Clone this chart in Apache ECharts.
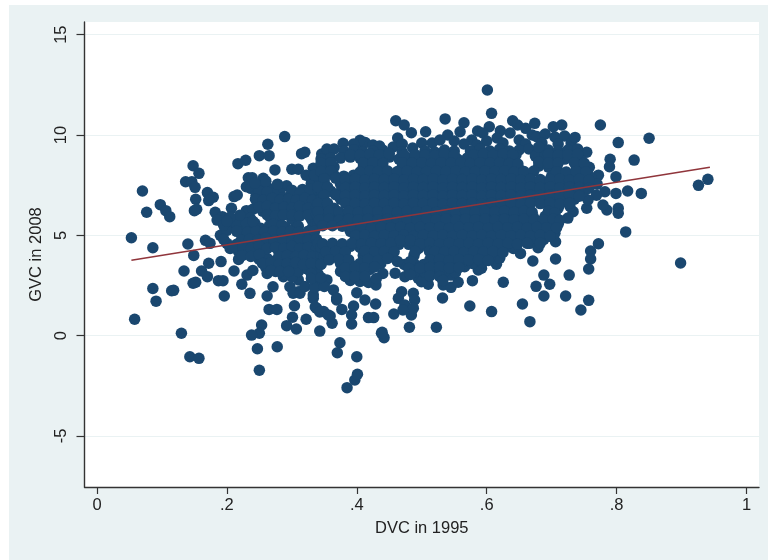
<!DOCTYPE html>
<html><head><meta charset="utf-8">
<script src="https://cdn.jsdelivr.net/npm/echarts@6/dist/echarts.min.js"></script>
<style>html,body{margin:0;padding:0;background:#fff;width:768px;height:560px;overflow:hidden}
#bg{position:absolute;left:9px;top:5px;right:0;bottom:0;background:#eaf2f3}
#c{position:absolute;left:0;top:0;width:768px;height:560px}</style></head>
<body><div id="bg"></div><div id="c"></div>
<script>
const xTicks=[0,.2,.4,.6,.8,1];
const xTickLabels={0:'0',0.2:'.2',0.4:'.4',0.6:'.6',0.8:'.8',1:'1'};
const yTicks=[-5,0,5,10,15];
const fitLine=[[.053,3.76],[.9436,8.39]];
const leftEdge=[[.053,4.88],[.070,7.21],[.0765,6.15],[.0975,6.53],[.106,6.23],[.112,5.93],[.086,4.38],[.140,4.57],[.167,4.75],[.174,4.60],[.149,4.0],[.172,3.61],[.191,3.69],[.134,3.22],[.161,3.22],[.211,3.22],[.148,8.47],[.157,8.09],[.1365,7.67],[.146,7.67],[.151,7.39],[.152,6.80],[.1535,6.30],[.150,6.23],[.170,7.13],[.179,6.90],[.172,6.73],[.182,6.15],[.193,5.93],[.185,5.76],[.211,6.93],[.216,7.01],[.207,6.35],[.230,6.23],[.240,6.30],[.217,8.57],[.229,8.74],[.250,8.97],[.263,9.54],[.265,8.97],[.289,9.92],[.274,8.26],[.256,7.84],[.233,7.87],[.239,7.87],[.230,7.42],[.237,7.34],[.264,7.34],[.292,7.47],[.3165,7.29],[.300,8.29],[.310,8.29],[.315,9.07],[.320,9.14],[.333,8.34],[.346,9.05],[.354,9.30],[.365,9.30],[.379,9.59],[.404,9.59],[.413,9.62],[.425,9.50],[.405,9.74]];
const topEdge=[[.460,10.71],[.473,10.50],[.484,10.11],[.506,10.16],[.536,10.80],[.565,10.61],[.559,10.16],[.6075,11.08],[.586,10.2],[.604,10.41],[.621,10.21],[.640,10.71],[.6475,10.5],[.660,10.33],[.674,10.58],[.601,12.24],[.7025,10.41],[.7155,10.50],[.463,9.85],[.456,9.4],[.44,9.25],[.486,9.35],[.516,9.6],[.54,10.0],[.528,9.75],[.577,9.75],[.594,10.1],[.616,9.85],[.636,10.1],[.67,10.0],[.677,9.92],[.69,10.05],[.705,9.9],[.72,9.95],[.55,9.7],[.6,9.7],[.65,9.75],[.5,9.6],[.47,9.55],[.625,9.6],[.565,9.55],[.585,9.5],[.66,9.55],[.685,9.6],[.71,9.55],[.73,9.6],[.395,9.55],[.435,9.45]];
const rightEdge=[[.775,10.50],[.850,9.84],[.8025,9.62],[.736,9.88],[.754,9.14],[.790,8.79],[.827,8.75],[.789,8.42],[.758,8.39],[.772,8.0],[.799,7.92],[.799,7.09],[.817,7.21],[.838,7.09],[.9405,7.79],[.926,7.49],[.8025,6.35],[.8025,6.10],[.785,6.26],[.754,6.35],[.779,6.51],[.782,7.17],[.769,7.0],[.756,6.76],[.733,6.18],[.725,5.86],[.814,5.17],[.772,4.58],[.760,4.22],[.760,3.82],[.757,3.32],[.8985,3.62],[.727,3.02],[.688,3.02],[.697,2.56],[.676,2.46],[.688,1.98],[.7215,1.98],[.757,1.76],[.745,1.28],[.706,3.82],[.671,3.72],[.679,4.38],[.706,4.68],[.6665,0.70],[.652,4.10],[.6255,2.66],[.578,2.74],[.655,1.58]];
const lowerEdge=[[.532,1.88],[.574,1.48],[.6075,1.2],[.5225,.42],[.481,.42],[.439,.17],[.442,-.10],[.418,.9],[.426,.9],[.457,1.08],[.484,1.03],[.469,2.19],[.487,2.11],[.464,1.86],[.489,1.78],[.474,1.53],[.487,1.37],[.471,1.28],[.400,2.14],[.4125,1.78],[.429,1.58],[.395,1.48],[.392,1.03],[.392,.58],[.4295,2.53],[.459,3.11],[.474,2.94],[.4945,2.86],[.510,2.56],[.4995,2.69],[.533,2.53],[.545,2.41],[.556,2.66],[.545,3.02],[.520,3.24],[.566,3.44],[.592,3.36],[.587,3.27],[.615,3.56],[.620,3.86],[.641,4.35],[.666,4.6],
[.170,2.94],[.148,2.61],[.152,2.66],[.115,2.24],[.187,2.74],[.194,2.74],[.196,1.98],[.223,2.56],[.2355,2.11],[.231,3.02],[.262,1.98],[.271,2.44],[.265,1.31],[.277,1.31],[.304,1.49],[.301,.92],[.292,.50],[.307,.33],[.322,.82],[.343,.23],[.2535,.53],[.250,.12],[.238,.03],[.247,-.65],[.2775,-.55],[.130,.12],[.143,-1.05],[.157,-1.13],[.374,-.35],[.370,-.85],[.4,-1.05],[.362,.62],[.359,.98],[.377,1.31],[.338,1.37],[.333,1.86],[.349,1.2],[.369,1.78],[.364,2.28],[.310,2.19],[.297,2.44],[.310,2.78],[.287,2.94],[.354,2.78],[.333,2.03],[.34,2.5],[.385,-2.59],[.397,-2.21],[.401,-1.92],[.250,-1.72],[.058,.82],[.091,1.72],[.086,2.35],[.118,2.26],[.438,.12],[.302,2.12],[.3125,2.12],[.336,1.43],[.343,1.18],[.356,1.03],[.369,1.88],[.32,2.45],[.335,2.4],[.35,2.45]];
const leftMass=[[.25,7.45],[.27,7.3],[.282,7.1],[.305,7.0],[.33,7.6],[.34,7.9],[.322,8.0],[.245,7.0],[.258,6.95],[.272,7.05],[.285,6.85],[.298,7.0],[.31,6.9],[.325,7.05],[.338,6.95],[.25,6.6],[.263,6.65],[.276,6.55],[.288,6.6],[.30,6.5],[.312,6.65],[.325,6.55],[.338,6.6],[.255,6.2],[.268,6.25],[.28,6.15],[.293,6.25],[.306,6.15],[.318,6.2],[.331,6.25],[.21,5.8],[.223,5.75],[.236,5.85],[.268,5.75],[.278,5.85],[.30,5.8],[.33,5.8],[.197,5.37],[.21,5.4],[.225,5.35],[.238,5.42],[.252,5.35],[.265,5.45],[.278,5.35],[.29,5.4],[.305,5.35],[.332,5.4],[.19,5.0],[.228,4.95],[.24,5.05],[.253,4.95],[.266,5.05],[.279,4.95],[.292,5.05],[.305,4.95],[.318,5.0],[.331,5.05],[.2,4.6],[.215,4.55],[.228,4.6],[.241,4.55],[.254,4.65],[.267,4.55],[.28,4.6],[.293,4.55],[.306,4.65],[.319,4.55],[.332,4.6],[.205,4.35],[.218,4.2],[.231,4.15],[.244,4.25],[.256,4.15],[.28,4.2],[.293,4.15],[.306,4.25],[.319,4.15],[.332,4.2],[.218,3.8],[.25,3.8],[.262,3.85],[.275,3.75],[.288,3.8],[.3,3.85],[.313,3.75],[.326,3.8],[.34,3.85],[.26,3.4],[.272,3.45],[.285,3.35],[.298,3.4],[.31,3.45],[.322,3.35],[.335,3.4],[.262,3.1],[.275,3.2],[.29,3.05],[.3,2.95],[.31,3.2],[.325,3.3],[.34,3.1]];
const leftFill=[[.25,7.2],[.262,7.15],[.3,7.25],[.3125,7.1],[.3275,7.3],[.34,7.3],[.244,6.8],[.256,6.75],[.27,6.85],[.282,6.75],[.295,6.8],[.307,6.75],[.32,6.85],[.332,6.75],[.25,6.4],[.262,6.45],[.275,6.35],[.288,6.4],[.3,6.35],[.312,6.45],[.325,6.35],[.338,6.4],[.262,6.02],[.275,5.98],[.287,6.02],[.3,6.0],[.312,5.95],[.325,6.02],[.338,6.05],[.2,5.6],[.215,5.55],[.23,5.6],[.243,5.6],[.272,5.55],[.285,5.5],[.31,5.45],[.34,5.6],[.2,5.25],[.215,5.2],[.232,5.15],[.245,5.2],[.258,5.15],[.272,5.2],[.285,5.15],[.298,5.2],[.31,5.15],[.325,5.2],[.335,5.2],[.195,4.8],[.222,4.75],[.235,4.8],[.248,4.75],[.26,4.85],[.273,4.75],[.286,4.8],[.3,4.75],[.312,4.85],[.325,4.75],[.338,4.8],[.21,4.4],[.225,4.4],[.237,4.35],[.25,4.45],[.262,4.35],[.275,4.4],[.288,4.35],[.3,4.45],[.312,4.35],[.325,4.4],[.338,4.35],[.224,4.0],[.237,3.95],[.25,4.05],[.28,3.95],[.293,4.0],[.306,3.95],[.319,4.0],[.332,3.95],[.345,4.05],[.255,3.6],[.268,3.65],[.28,3.55],[.293,3.6],[.306,3.65],[.318,3.55],[.33,3.6],[.345,3.6],[.24,3.25],[.268,3.25],[.282,3.2],[.295,3.2],[.33,3.1],[.33,2.85],[.345,2.9],[.24,5.7],[.22,6.0],[.205,5.9],[.195,5.5],[.2,5.7],[.26,7.7],[.278,7.55],[.243,7.6]];
const band92=[[.38,9.2],[.395,9.25],[.41,9.15],[.425,9.2],[.47,9.15],[.505,9.2],[.52,9.15],[.535,9.25],[.55,9.2],[.575,9.2],[.59,9.3],[.605,9.2],[.62,9.3],[.635,9.2],[.65,9.25],[.665,9.3],[.68,9.2],[.695,9.25],[.71,9.2],[.725,9.25],[.74,9.3]];
const band88=[[.345,8.8],[.36,8.85],[.375,8.85],[.39,8.9],[.405,8.85],[.42,8.85],[.435,8.8],[.45,8.9],[.465,8.8],[.48,8.85],[.495,8.8],[.51,8.85],[.525,8.8],[.54,8.9],[.555,8.8],[.57,8.85],[.585,8.8],[.6,8.85],[.615,8.8],[.63,8.85],[.645,9.0],[.675,8.95],[.69,9.0],[.705,8.85],[.72,8.8],[.735,8.85],[.745,8.75]];
const band84=[[.335,8.0],[.35,8.35],[.365,8.4],[.41,8.4],[.425,8.35],[.44,8.4],[.47,8.4],[.485,8.35],[.5,8.4],[.515,8.35],[.53,8.4],[.545,8.35],[.56,8.4],[.575,8.35],[.59,8.4],[.605,8.35],[.62,8.4],[.635,8.35],[.65,8.3],[.68,8.45],[.695,8.4],[.708,8.35],[.738,8.4],[.75,8.3]];
const band80=[[.35,8.0],[.365,8.0],[.38,7.95],[.395,8.0],[.41,7.95],[.425,8.0],[.44,7.95],[.455,8.0],[.47,7.95],[.485,8.0],[.5,7.95],[.515,8.0],[.53,7.95],[.545,8.0],[.56,7.95],[.575,8.0],[.59,7.95],[.605,8.0],[.62,7.95],[.635,8.0],[.65,7.95],[.665,8.0],[.7,7.95],[.715,8.0],[.73,7.95],[.745,8.0],[.76,7.9]];
const band76=[[.35,7.6],[.375,7.55],[.39,7.6],[.405,7.55],[.42,7.6],[.435,7.55],[.45,7.6],[.465,7.55],[.48,7.6],[.495,7.55],[.51,7.6],[.525,7.55],[.54,7.6],[.555,7.55],[.57,7.6],[.585,7.55],[.6,7.6],[.615,7.55],[.63,7.6],[.645,7.55],[.66,7.6],[.675,7.55],[.69,7.6],[.705,7.55],[.72,7.6],[.735,7.55],[.75,7.6],[.77,7.55]];
const band72=[[.345,7.25],[.36,7.2],[.375,7.15],[.39,7.2],[.405,7.15],[.42,7.2],[.435,7.15],[.45,7.2],[.465,7.15],[.48,7.2],[.495,7.15],[.51,7.2],[.525,7.15],[.54,7.2],[.555,7.15],[.57,7.2],[.585,7.15],[.6,7.2],[.615,7.15],[.63,7.2],[.645,7.15],[.66,7.2],[.675,7.15],[.69,7.2],[.705,7.15],[.72,7.2],[.735,7.15],[.75,7.2]];
const band68=[[.345,6.8],[.375,6.8],[.39,6.75],[.405,6.8],[.42,6.75],[.435,6.8],[.45,6.75],[.465,6.8],[.48,6.75],[.495,6.8],[.51,6.75],[.525,6.8],[.54,6.75],[.555,6.8],[.57,6.75],[.585,6.8],[.6,6.75],[.615,6.8],[.63,6.75],[.645,6.8],[.66,6.75],[.675,6.8],[.69,6.75],[.705,6.8],[.72,6.75],[.735,6.8]];
const band64=[[.35,6.4],[.365,6.35],[.395,6.4],[.41,6.35],[.425,6.4],[.44,6.35],[.455,6.4],[.47,6.35],[.485,6.4],[.5,6.35],[.515,6.4],[.53,6.35],[.545,6.4],[.56,6.35],[.575,6.4],[.59,6.35],[.605,6.4],[.62,6.35],[.635,6.4],[.65,6.35],[.665,6.4],[.695,6.45],[.71,6.35],[.728,6.45]];
const band60=[[.345,6.0],[.36,5.95],[.375,6.0],[.39,5.95],[.405,6.0],[.42,5.95],[.435,6.0],[.45,5.95],[.465,6.0],[.48,5.95],[.495,6.0],[.51,5.95],[.525,6.0],[.54,5.95],[.555,6.0],[.57,5.95],[.585,6.0],[.6,5.95],[.615,6.0],[.63,5.95],[.645,6.0],[.66,5.95],[.672,5.9],[.69,5.95],[.705,6.0]];
const band56=[[.35,5.6],[.365,5.65],[.38,5.6],[.395,5.6],[.41,5.55],[.425,5.6],[.44,5.55],[.455,5.6],[.47,5.55],[.485,5.6],[.5,5.55],[.515,5.6],[.53,5.55],[.545,5.6],[.56,5.55],[.575,5.6],[.59,5.55],[.605,5.6],[.62,5.55],[.635,5.6],[.65,5.55],[.665,5.6],[.68,5.55],[.695,5.6],[.71,5.55]];
const band52=[[.39,5.2],[.405,5.15],[.42,5.2],[.435,5.15],[.45,5.2],[.465,5.15],[.48,5.2],[.495,5.15],[.51,5.2],[.525,5.15],[.54,5.2],[.555,5.15],[.57,5.2],[.585,5.15],[.6,5.2],[.615,5.15],[.63,5.2],[.645,5.15],[.66,5.2],[.675,5.15],[.69,5.2],[.705,5.1]];
const band48=[[.34,4.6],[.4,4.8],[.415,4.75],[.43,4.8],[.445,4.75],[.46,4.8],[.475,4.75],[.49,4.8],[.505,4.75],[.52,4.8],[.535,4.75],[.55,4.8],[.565,4.75],[.58,4.8],[.595,4.75],[.61,4.8],[.625,4.75],[.64,4.8],[.655,4.75],[.672,4.85],[.688,4.8]];
const band44=[[.345,4.4],[.36,4.35],[.375,4.4],[.39,4.45],[.405,4.4],[.42,4.35],[.435,4.4],[.45,4.35],[.465,4.55],[.48,4.55],[.495,4.35],[.51,4.4],[.525,4.35],[.54,4.4],[.555,4.35],[.57,4.4],[.585,4.35],[.6,4.4],[.615,4.35],[.628,4.4]];
const band40=[[.35,3.95],[.365,4.0],[.38,3.95],[.41,4.0],[.425,3.95],[.44,4.0],[.455,3.95],[.488,4.0],[.515,3.95],[.53,4.0],[.545,3.95],[.56,4.0],[.575,3.95],[.59,4.0],[.605,3.95]];
const band36=[[.345,3.55],[.375,3.6],[.39,3.55],[.405,3.6],[.42,3.55],[.437,3.6],[.473,3.55],[.488,3.6],[.503,3.55],[.518,3.6],[.533,3.55],[.548,3.6],[.563,3.7],[.578,3.6],[.593,3.65]];
const band30=[[.375,3.2],[.39,3.15],[.405,3.2],[.42,3.3],[.44,3.1],[.49,3.2],[.505,3.15],[.535,3.2],[.552,3.15],[.39,2.75],[.405,2.7],[.418,2.65],[.43,2.85]];
const fill90=[[.39,9.02],[.405,9.0],[.42,9.05],[.435,9.0],[.45,9.08],[.4725,9.0],[.49,9.02],[.505,9.0],[.52,8.98],[.535,9.05],[.55,9.0],[.58,9.02],[.595,9.05],[.61,9.0],[.625,9.05],[.64,9.02],[.68,9.4],[.695,9.05],[.71,9.0],[.725,9.02],[.74,9.05]];
const fill86=[[.345,8.6],[.36,8.62],[.41,8.6],[.425,8.62],[.44,8.58],[.47,8.62],[.485,8.6],[.5,8.62],[.515,8.58],[.53,8.62],[.545,8.6],[.56,8.62],[.575,8.58],[.59,8.62],[.605,8.6],[.62,8.62],[.635,8.58],[.648,8.55],[.68,8.65],[.695,8.6],[.71,8.6],[.735,8.62],[.75,8.6]];
const fill82=[[.345,8.18],[.36,8.2],[.405,8.15],[.42,8.2],[.4325,8.18],[.4475,8.2],[.4625,8.18],[.4775,8.2],[.4925,8.15],[.5075,8.18],[.5225,8.2],[.5375,8.18],[.5525,8.2],[.5675,8.15],[.5825,8.18],[.5975,8.2],[.6125,8.18],[.6275,8.2],[.6425,8.15],[.6575,8.18],[.6725,8.2],[.7075,8.15],[.7225,8.15],[.7375,8.18],[.7525,8.15]];
const fill78=[[.35,7.82],[.3675,7.85],[.3825,7.78],[.3975,7.8],[.4125,7.75],[.4275,7.8],[.4425,7.78],[.4575,7.8],[.4725,7.75],[.4875,7.8],[.5025,7.78],[.5175,7.8],[.5325,7.75],[.5475,7.8],[.5625,7.78],[.5775,7.8],[.5925,7.75],[.6075,7.8],[.6225,7.78],[.6375,7.8],[.6525,7.75],[.6675,7.8],[.6825,7.78],[.6975,7.78],[.7125,7.8],[.7275,7.75],[.7425,7.8],[.7575,7.75]];
const fill74=[[.34,7.42],[.355,7.4],[.3825,7.38],[.3975,7.4],[.4125,7.35],[.4275,7.4],[.4425,7.38],[.4575,7.4],[.4725,7.35],[.4875,7.4],[.5025,7.38],[.5175,7.4],[.5325,7.35],[.5475,7.4],[.5625,7.38],[.5775,7.4],[.5925,7.35],[.6075,7.4],[.6225,7.38],[.6375,7.4],[.6525,7.35],[.6675,7.4],[.6825,7.38],[.6975,7.4],[.7125,7.35],[.7275,7.4],[.7425,7.38],[.7575,7.35]];
const fill70=[[.35,7.0],[.3675,7.02],[.3825,6.98],[.3975,7.0],[.4125,6.95],[.4275,7.0],[.4425,6.98],[.4575,7.0],[.4725,6.95],[.4875,7.0],[.5025,6.98],[.5175,7.0],[.5325,6.95],[.5475,7.0],[.5625,6.98],[.5775,7.0],[.5925,6.95],[.6075,7.0],[.6225,6.98],[.6375,7.0],[.6525,6.95],[.6675,7.0],[.6825,6.98],[.6975,7.0],[.7125,6.95],[.7275,7.0],[.7425,6.95]];
const fill66=[[.34,6.58],[.355,6.6],[.3825,6.6],[.3975,6.58],[.4125,6.55],[.4275,6.6],[.4425,6.58],[.4575,6.6],[.4725,6.55],[.4875,6.6],[.5025,6.58],[.5175,6.6],[.5325,6.55],[.5475,6.6],[.5625,6.58],[.5775,6.6],[.5925,6.55],[.6075,6.6],[.6225,6.58],[.6375,6.6],[.6525,6.55],[.6675,6.6],[.6825,6.58],[.6975,6.6],[.7125,6.55],[.7275,6.6]];
const fill62=[[.34,6.18],[.3575,6.2],[.3725,6.18],[.3875,6.2],[.4025,6.15],[.4175,6.2],[.4325,6.18],[.4475,6.2],[.4625,6.15],[.4775,6.2],[.4925,6.18],[.5075,6.2],[.5225,6.15],[.5375,6.2],[.5525,6.18],[.5675,6.2],[.5825,6.15],[.5975,6.2],[.6125,6.18],[.6275,6.2],[.6425,6.15],[.6575,6.2],[.67,6.15],[.695,6.2],[.705,6.12]];
const fill58=[[.3425,5.78],[.3575,5.8],[.3725,5.75],[.3875,5.8],[.4025,5.78],[.4175,5.8],[.4325,5.75],[.4475,5.8],[.4625,5.78],[.4775,5.8],[.4925,5.75],[.5075,5.8],[.5225,5.78],[.5375,5.8],[.5525,5.75],[.5675,5.8],[.5825,5.78],[.5975,5.8],[.6125,5.75],[.6275,5.8],[.6425,5.78],[.6575,5.8],[.6725,5.75],[.6875,5.78],[.7025,5.8],[.7125,5.75]];
const fill54=[[.3475,5.48],[.3625,5.48],[.3775,5.45],[.3925,5.38],[.4075,5.4],[.4225,5.35],[.4375,5.4],[.4525,5.38],[.4675,5.4],[.4825,5.35],[.4975,5.4],[.5125,5.38],[.5275,5.4],[.5425,5.35],[.5575,5.4],[.5725,5.38],[.5875,5.4],[.6025,5.35],[.6175,5.4],[.6325,5.38],[.6475,5.4],[.6625,5.35],[.6775,5.4],[.6925,5.38],[.7075,5.38]];
const fill50=[[.4,5.0],[.3975,4.98],[.4125,5.0],[.4275,4.95],[.4425,5.0],[.4575,4.98],[.4725,5.0],[.4875,4.95],[.5025,5.0],[.5175,4.98],[.5325,5.0],[.5475,4.95],[.5625,5.0],[.5775,4.98],[.5925,5.0],[.6075,4.95],[.6225,5.0],[.6375,4.98],[.6525,5.0],[.6675,4.95],[.6825,5.0],[.6975,4.95]];
const fill46=[[.3475,4.58],[.3625,4.6],[.3775,4.58],[.3925,4.6],[.4075,4.55],[.4225,4.6],[.4375,4.58],[.4525,4.6],[.4675,4.75],[.4825,4.75],[.4975,4.58],[.5125,4.6],[.5275,4.55],[.5425,4.6],[.5575,4.58],[.5725,4.6],[.5875,4.55],[.6025,4.6],[.6175,4.58],[.6325,4.6],[.6475,4.55],[.6625,4.6],[.6825,4.6]];
const fill42=[[.3525,4.18],[.3675,4.2],[.3825,4.18],[.4125,4.22],[.4275,4.18],[.4425,4.2],[.4575,4.18],[.49,4.2],[.512,4.2],[.52,4.2],[.535,4.18],[.55,4.2],[.565,4.15],[.58,4.2],[.595,4.18],[.61,4.2],[.625,4.15]];
const fill38=[[.3575,3.78],[.3725,3.8],[.3875,3.78],[.4175,3.8],[.4325,3.75],[.4475,3.85],[.4625,3.7],[.4825,3.7],[.5125,3.78],[.5275,3.8],[.5425,3.75],[.5575,3.8],[.5725,3.78],[.5875,3.8],[.6025,3.75]];
const fill33=[[.3825,3.38],[.3975,3.4],[.4125,3.38],[.4275,3.42],[.48,3.35],[.4975,3.38],[.5125,3.4],[.5275,3.42],[.5425,3.38],[.5575,3.4],[.3825,2.95],[.3975,2.95],[.4125,2.95],[.4825,3.05],[.5125,2.98],[.5275,2.95],[.5325,2.75]];
const scatterPoints=[...leftEdge,...topEdge,...rightEdge,...lowerEdge,...leftMass,...leftFill,...band92,...band88,...band84,...band80,...band76,...band72,...band68,...band64,...band60,...band56,...band52,...band48,...band44,...band40,...band36,...band30,...fill90,...fill86,...fill82,...fill78,...fill74,...fill70,...fill66,...fill62,...fill58,...fill54,...fill50,...fill46,...fill42,...fill38,...fill33];
const font='"Liberation Sans",Arial,sans-serif';
const chart=echarts.init(document.getElementById('c'),null,{renderer:'canvas'});
chart.setOption({
 animation:false,backgroundColor:'transparent',
 grid:{left:84.5,right:9,top:22,bottom:73,show:true,backgroundColor:'#fff',borderWidth:0},
 xAxis:{type:'value',min:-0.0192,max:1.0192,name:'DVC in 1995',nameLocation:'middle',nameGap:33,
  nameTextStyle:{color:'#222',fontSize:16.5,fontFamily:font},
  axisLine:{onZero:false,lineStyle:{color:'#333',width:1.4}},
  axisTick:{customValues:xTicks,length:7,lineStyle:{color:'#333',width:1.2}},
  axisLabel:{customValues:xTicks,formatter:v=>xTickLabels[v],color:'#222',fontSize:16.5,fontFamily:font,margin:10,hideOverlap:false,showMinLabel:true,showMaxLabel:true},
  splitLine:{show:false}},
 yAxis:{type:'value',min:-7.54,max:15.63,name:'GVC in 2008',nameLocation:'middle',nameGap:33,
  nameTextStyle:{color:'#222',fontSize:16.5,fontFamily:font},
  axisLine:{onZero:false,lineStyle:{color:'#333',width:1.4}},
  axisTick:{customValues:yTicks,length:8,lineStyle:{color:'#333',width:1.2}},
  axisLabel:{customValues:yTicks,rotate:90,color:'#222',fontSize:16.5,fontFamily:font,margin:15,hideOverlap:false},
  splitLine:{show:true,lineStyle:{color:'#eaf2f3',width:1.2}}},
 series:[
  {type:'scatter',data:scatterPoints,symbol:'circle',symbolSize:11.5,itemStyle:{color:'#1a476f',opacity:1},z:2,large:false},
  {type:'line',data:fitLine,showSymbol:false,symbol:'none',lineStyle:{color:'#90353b',width:1.6},z:3}
 ]
});
</script></body></html>
